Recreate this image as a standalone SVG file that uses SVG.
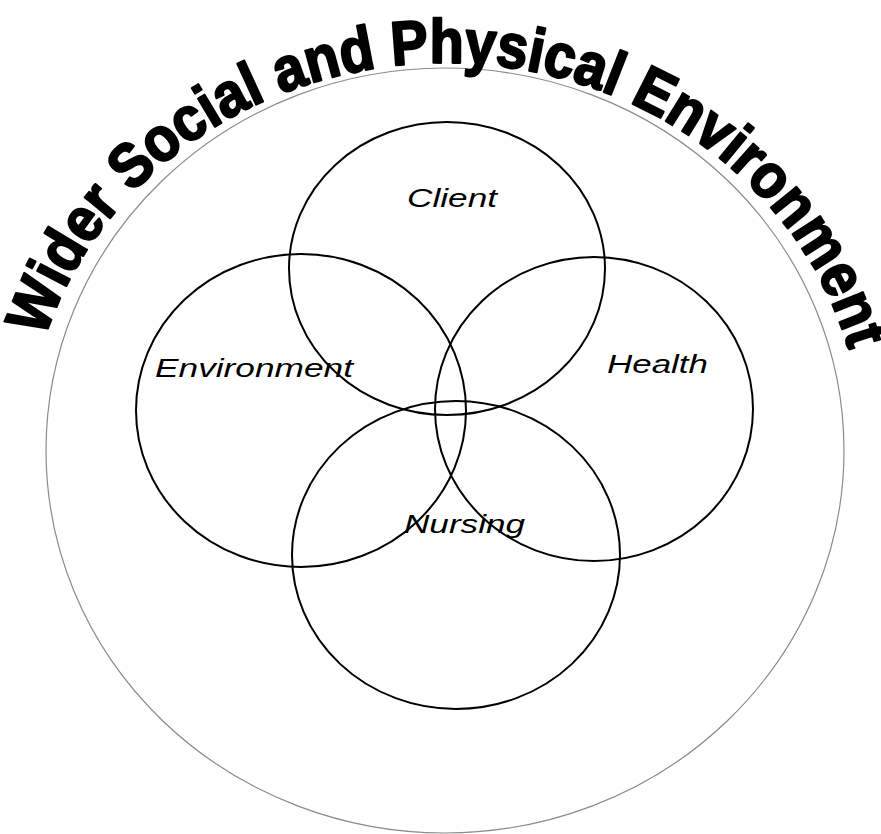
<svg xmlns="http://www.w3.org/2000/svg" width="881" height="834" viewBox="0 0 881 834">
<style>
.outer{fill:none;stroke:#8a8a8a;stroke-width:1.2}
.set{fill:none;stroke:#000;stroke-width:2}
.lbl{font-family:"Liberation Sans",Arial,sans-serif;font-style:italic;font-size:26px;fill:#000}
.title{font-family:"Liberation Sans",Arial,sans-serif;font-weight:bold;font-size:62px;fill:#000;stroke:#000;stroke-width:2.2;stroke-linejoin:round}
</style>
<defs>
<path id="arc" d="M 44.8 338 A 418 387 0 0 1 849.3 351.8"/>
</defs>
<rect width="881" height="834" fill="#fff"/>
<g id="wider-environment">
<ellipse class="outer" cx="445" cy="450.5" rx="399" ry="382.5"/>
<text class="title"><textPath href="#arc" textLength="1050" lengthAdjust="spacingAndGlyphs">Wider Social and Physical Environment</textPath></text>
</g>
<g id="client">
<ellipse class="set" cx="447" cy="268.5" rx="158" ry="146.5"/>
<text class="lbl" x="407" y="207" textLength="90" lengthAdjust="spacingAndGlyphs">Client</text>
</g>
<g id="environment">
<ellipse class="set" cx="301" cy="410.5" rx="165" ry="156.5"/>
<text class="lbl" x="155" y="377" textLength="198" lengthAdjust="spacingAndGlyphs">Environment</text>
</g>
<g id="health">
<ellipse class="set" cx="594" cy="409" rx="159" ry="152"/>
<text class="lbl" x="607" y="373" textLength="101" lengthAdjust="spacingAndGlyphs">Health</text>
</g>
<g id="nursing">
<ellipse class="set" cx="456" cy="555" rx="164" ry="154"/>
<text class="lbl" x="404" y="533" textLength="121" lengthAdjust="spacingAndGlyphs">Nursing</text>
</g>
<g id="connectors"></g>
</svg>
